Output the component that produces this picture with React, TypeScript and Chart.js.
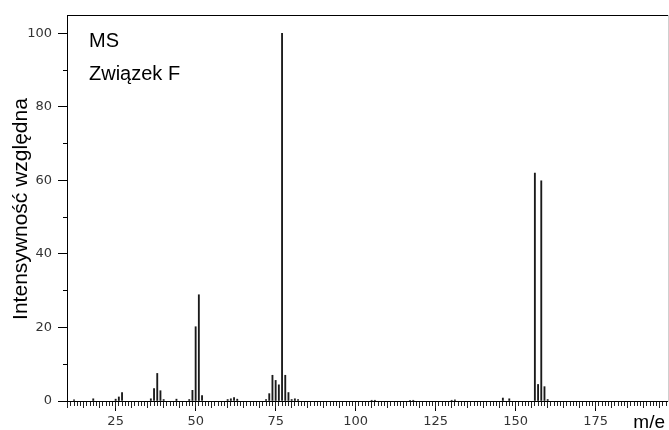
import React, { useEffect, useRef } from "react";
import { Chart, registerables } from "chart.js";

Chart.register(...registerables);

// m/e values and relative intensities
const masses = [12, 18, 25, 26, 27, 36, 37, 38, 39, 40, 44, 48, 49, 50, 51, 52, 60, 61, 62, 63, 72, 73, 74, 75, 76, 77, 78, 79, 80, 81, 82, 105, 106, 117, 118, 130, 131, 146, 148, 156, 157, 158, 159, 160];
const intensities = [0.3, 0.6, 0.5, 1.1, 2.3, 0.6, 3.4, 7.5, 2.8, 0.4, 0.5, 0.4, 2.9, 20.2, 28.9, 1.5, 0.4, 0.6, 0.9, 0.5, 0.4, 2.0, 7.0, 5.6, 4.4, 100, 7.0, 2.3, 0.4, 0.6, 0.4, 0.2, 0.2, 0.2, 0.2, 0.2, 0.3, 0.8, 0.6, 62.0, 4.5, 59.9, 3.9, 0.4];

const xLabelTicks = [25, 50, 75, 100, 125, 150, 175];
const yLabelTicks = [0, 20, 40, 60, 80, 100];

const X_MIN = 9.8;
const X_MAX = 197.6;
const Y_MIN = 0;
const Y_MAX = 105;

const titleLines = ["MS", "Związek F"];
const yTitle = "Intensywność względna";
const xTitle = "m/e";

const tickFont = { family: '"DejaVu Sans", Verdana, sans-serif', size: 13 };

const textPlugin = {
  id: "texts",
  afterDraw(chart: any) {
    const { ctx, chartArea } = chart;
    ctx.save();
    ctx.fillStyle = "#000";
    ctx.textBaseline = "alphabetic";
    ctx.textAlign = "left";
    ctx.font = '20px "Liberation Sans", Arial, sans-serif';
    ctx.fillText(titleLines[0], chartArea.left + 22, 46.7);
    ctx.fillText(titleLines[1], chartArea.left + 22, 80);
    ctx.font = '19px "Liberation Sans", Arial, sans-serif';
    ctx.textAlign = "right";
    ctx.fillText(xTitle, 665, 428);
    ctx.translate(26.5, (chartArea.top + chartArea.bottom) / 2 + 1);
    ctx.rotate(-Math.PI / 2);
    ctx.textAlign = "center";
    ctx.font = '21px "Liberation Sans", Arial, sans-serif';
    ctx.fillText(yTitle, 0, 0);
    ctx.restore();
  },
};

export default function App() {
  const ref = useRef<HTMLCanvasElement>(null);
  useEffect(() => {
    const data = masses.map((m, i) => ({ x: m, y: intensities[i] }));
    const minorX = (step: number, len: number) => ({
      type: "linear",
      position: { y: 0 },
      min: X_MIN,
      max: X_MAX,
      offset: false,
      grid: { display: true, drawOnChartArea: false, drawTicks: true, tickLength: len, color: "#222", offset: false },
      border: { display: false },
      ticks: { display: false, stepSize: step, includeBounds: false },
    });
    const chart = new Chart(ref.current!, {
      type: "bar",
      data: {
        datasets: [
          {
            data,
            xAxisID: "x",
            yAxisID: "y",
            backgroundColor: "#1a1a1a",
            borderWidth: 0,
            barThickness: 1.2,
            grouped: false,
          } as any,
        ],
      },
      options: {
        responsive: false,
        animation: false,
        devicePixelRatio: 1,
        layout: { padding: { top: 15, right: 1, left: 0, bottom: 0 } },
        plugins: { legend: { display: false }, tooltip: { enabled: false } },
        scales: {
          x: {
            type: "linear",
            position: "bottom",
            min: X_MIN,
            max: X_MAX,
            offset: false,
            grid: { display: true, drawOnChartArea: false, drawTicks: true, tickLength: 10, color: "#000", offset: false },
            border: { display: true, color: "#000", width: 1 },
            ticks: { autoSkip: false, maxRotation: 0, minRotation: 0, padding: 3, font: tickFont, color: "#333" },
            afterBuildTicks: (a: any) => {
              a.ticks = xLabelTicks.map((v) => ({ value: v }));
            },
            afterFit: (a: any) => {
              a.height = 29;
            },
          },
          xMinor: minorX(1, 5),
          xMid: minorX(5, 7),
          xTop: {
            type: "linear",
            position: { y: Y_MAX },
            min: X_MIN,
            max: X_MAX,
            offset: false,
            grid: { display: false },
            border: { display: true, color: "#000", width: 1 },
            ticks: { display: false },
          },
          y: {
            type: "linear",
            position: "left",
            min: Y_MIN,
            max: Y_MAX,
            grid: { display: true, drawOnChartArea: false, drawTicks: true, tickLength: 9, color: "#000" },
            border: { display: true, color: "#000", width: 1 },
            ticks: { autoSkip: false, padding: 6, font: tickFont, color: "#333" },
            afterBuildTicks: (a: any) => {
              a.ticks = yLabelTicks.map((v) => ({ value: v }));
            },
            afterFit: (a: any) => {
              a.width = 67;
            },
          },
          yMinor: {
            type: "linear",
            position: { x: X_MIN },
            min: Y_MIN,
            max: Y_MAX,
            grid: { display: true, drawOnChartArea: false, drawTicks: true, tickLength: 4, color: "#000" },
            border: { display: false },
            ticks: { display: false, stepSize: 10, includeBounds: false },
          },
          yRight: {
            type: "linear",
            position: { x: X_MAX },
            min: Y_MIN,
            max: Y_MAX,
            grid: { display: false },
            border: { display: true, color: "#cfcfcf", width: 1 },
            ticks: { display: false },
          },
        } as any,
      },
      plugins: [textPlugin],
    } as any);
    return () => chart.destroy();
  }, []);
  return (
    <div style={{ position: "absolute", left: 0, top: 0, width: 669, height: 430, background: "#fff" }}>
      <canvas ref={ref} width={669} height={430} style={{ display: "block", width: 669, height: 430 }} />
    </div>
  );
}
